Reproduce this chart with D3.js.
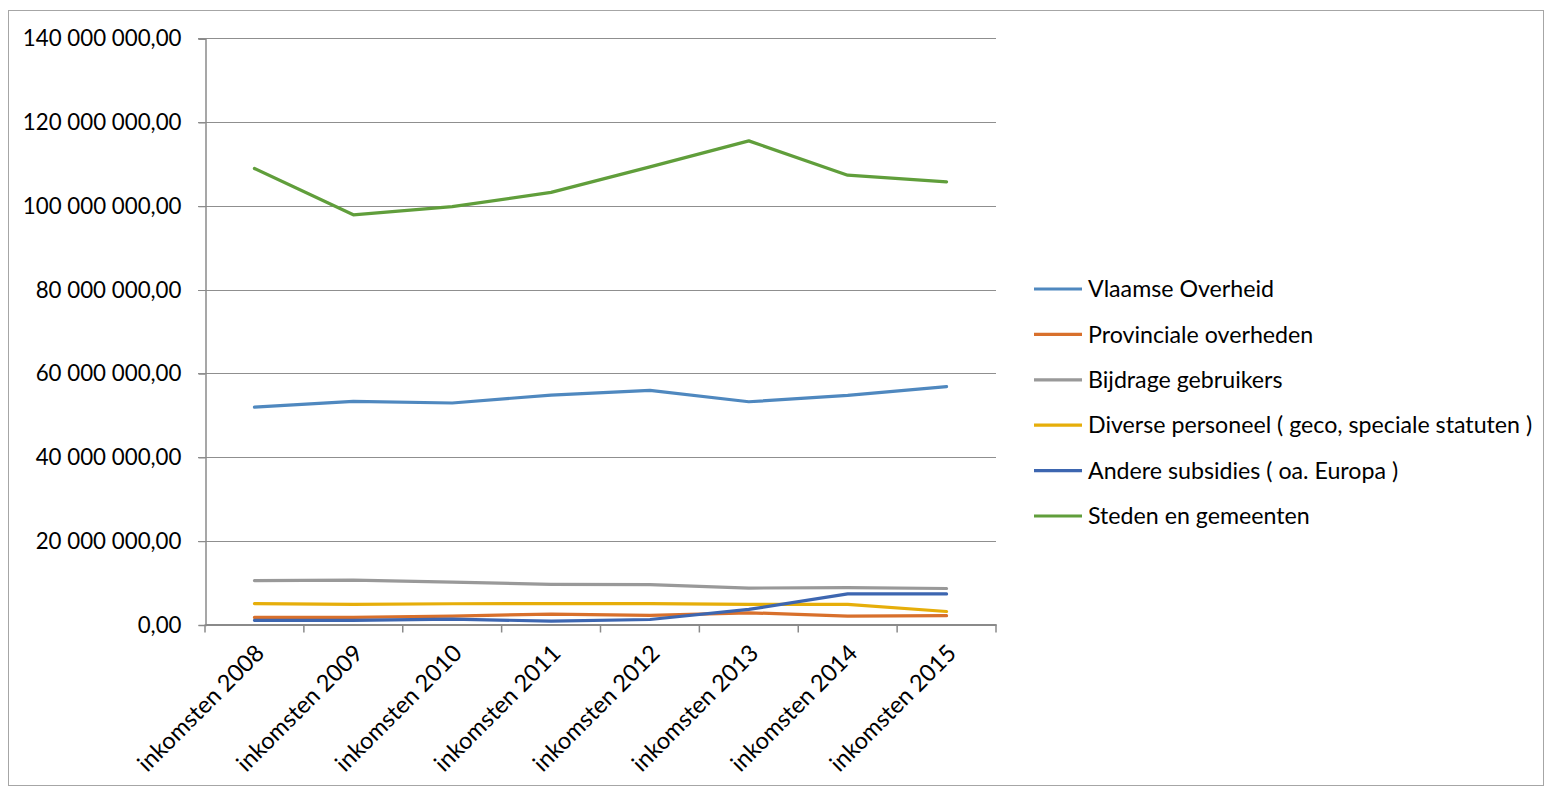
<!DOCTYPE html>
<html><head><meta charset="utf-8">
<script src="https://cdn.jsdelivr.net/npm/d3@7"></script>
<style>body{margin:0;background:#fff}svg{display:block}text{font-family:Lato,"Open Sans",sans-serif;fill:#000}</style>
</head><body><svg id="c" width="1545" height="788"></svg>
<script>
const categories = ["inkomsten 2008","inkomsten 2009","inkomsten 2010","inkomsten 2011","inkomsten 2012","inkomsten 2013","inkomsten 2014","inkomsten 2015"];
const seriesNames = ["Vlaamse Overheid","Provinciale overheden","Bijdrage gebruikers","Diverse personeel ( geco, speciale statuten )","Andere subsidies ( oa. Europa )","Steden en gemeenten"];
const seriesColors = ["#4f88bf","#d8702c","#999999","#e6ae0a","#3d66b0","#609e3b"];
const vlaamse = [51900000,53300000,52900000,54800000,55900000,53200000,54700000,56800000];
const provinciale = [1700000,1700000,2000000,2500000,2200000,2800000,2000000,2100000];
const bijdrage = [10500000,10600000,10100000,9600000,9500000,8700000,8800000,8600000];
const diverse = [5000000,4800000,4950000,5000000,5000000,4800000,4800000,3100000];
const andere = [1000000,1000000,1300000,800000,1200000,3600000,7300000,7300000];
const steden = [108900000,97850000,99800000,103200000,109300000,115500000,107300000,105700000];
const yTicks = [0,20000000,40000000,60000000,80000000,100000000,120000000,140000000];
const yTickLabels = ["0,00","20 000 000,00","40 000 000,00","60 000 000,00","80 000 000,00","100 000 000,00","120 000 000,00","140 000 000,00"];
const allSeries = [vlaamse,provinciale,bijdrage,diverse,andere,steden];

const svg = d3.select("#c");
svg.append("rect").attr("x",8.5).attr("y",10.5).attr("width",1535).attr("height",775)
  .attr("fill","#fff").attr("stroke","#a6a6a6").attr("stroke-width",1);

const L=205, R=996, T=38.3, B=624.5;
const x = d3.scaleBand().domain(categories).range([L,R]);
const y = d3.scaleLinear().domain([0,140000000]).range([B,T]);

// gridlines
svg.append("g").selectAll("line").data(yTicks.slice(1)).join("line")
  .attr("x1",L-7).attr("x2",R).attr("y1",d=>Math.round(y(d))+0.5).attr("y2",d=>Math.round(y(d))+0.5)
  .attr("stroke","#8f8f8f").attr("stroke-width",1);

// y axis
const yAxis = d3.axisLeft(y).tickValues(yTicks).tickSize(7).tickPadding(17)
  .tickFormat((d,i)=>yTickLabels[i]);
const gy = svg.append("g").attr("transform",`translate(${L+0.5},0.5)`).call(yAxis);
gy.select(".domain").attr("stroke","#8a8a8a").attr("stroke-width",1.5);
gy.selectAll(".tick line").attr("stroke","#8a8a8a");
gy.selectAll("text").attr("font-size",22.3).attr("font-family","Lato,sans-serif");

// x axis
const xAxis = d3.axisBottom(x).tickSize(0).tickFormat(d=>d);
const gx = svg.append("g").attr("transform",`translate(0,${B})`).call(xAxis);
gx.select(".domain").attr("stroke","#8a8a8a").attr("stroke-width",2);
gx.selectAll(".tick text").attr("font-size",23.5).attr("font-family","Lato,sans-serif")
  .attr("text-anchor","end").attr("dy",0)
  .attr("transform","translate(9,28) rotate(-45)");
// category boundary ticks
const bounds = categories.map(c=>x(c)).concat([R]);
svg.append("g").selectAll("line").data(bounds).join("line")
  .attr("x1",d=>d).attr("x2",d=>d).attr("y1",B).attr("y2",B+8)
  .attr("stroke","#8a8a8a").attr("stroke-width",1.5);

// lines
const line = d3.line().x((d,i)=>x(categories[i])+x.bandwidth()/2).y(d=>y(d));
svg.append("g").selectAll("path").data(allSeries).join("path")
  .attr("d",d=>line(d)).attr("fill","none")
  .attr("stroke",(d,i)=>seriesColors[i]).attr("stroke-width",3.2)
  .attr("stroke-linejoin","round").attr("stroke-linecap","round");

// legend
const lg = svg.append("g").selectAll("g").data(seriesNames).join("g")
  .attr("transform",(d,i)=>`translate(1034,${289+i*45.4})`);
lg.append("line").attr("x1",0).attr("x2",48).attr("y1",0).attr("y2",0)
  .attr("stroke",(d,i)=>seriesColors[i]).attr("stroke-width",3.2);
lg.append("text").attr("x",54).attr("y",0).attr("dy","0.35em").attr("font-size",23.2).text(d=>d);
</script></body></html>
